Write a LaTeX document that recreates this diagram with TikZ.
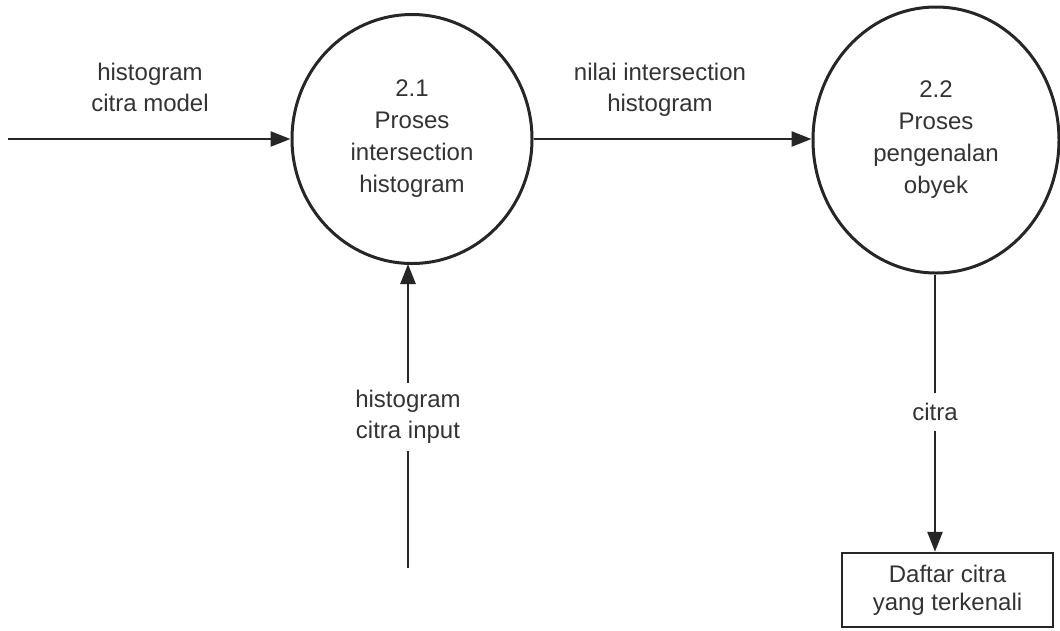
\documentclass[tikz,border=0pt]{standalone}
\usepackage{fontspec}
\setmainfont{Liberation Sans}
\usetikzlibrary{arrows.meta}
\definecolor{ink}{HTML}{262626}
\definecolor{txt}{HTML}{333333}
\tikzset{
  proc/.style={ellipse, draw=ink, line width=3pt, inner sep=0pt, text=txt,
    align=center, font=\fontsize{24}{32}\selectfont},
  flow/.style={draw=ink, line width=2.6pt,
    -{Triangle[length=20pt,width=15pt]}},
  plain/.style={draw=ink, line width=2.6pt},
  lbl/.style={text=txt, align=center, inner sep=2pt,
    font=\fontsize{24}{31}\selectfont},
  store/.style={draw=ink, line width=2.5pt, text=txt, align=center,
    inner sep=0pt, font=\fontsize{24}{28}\selectfont}
}
\usetikzlibrary{shapes.geometric}
\begin{document}
\begin{tikzpicture}[x=1pt,y=-1pt]
  \useasboundingbox (0,0) rectangle (1060,630);
  % processes
  \node[proc, minimum width=240pt, minimum height=249pt] (p1) at (412,139)
    {2.1\\Proses\\intersection\\histogram};
  \node[proc, minimum width=246pt, minimum height=266pt] (p2) at (936,140)
    {2.2\\Proses\\pengenalan\\obyek};
  % external store
  \node[store, minimum width=211pt, minimum height=74pt] (st) at (947.5,590)
    {Daftar citra\\yang terkenali};
  % free ends
  \coordinate (src) at (8,139);
  \coordinate (inp) at (408,568);
  % flow labels
  \node[lbl] (lmodel) at (150,87) {histogram\\citra model};
  \node[lbl] (lnilai) at (660,90) {nilai intersection\\histogram};
  \node[lbl, minimum height=68pt] (linput) at (408,417) {histogram\\citra input};
  \node[lbl, minimum height=38pt] (lcitra) at (935,412) {citra};
  % flows
  \draw[flow] (src) -- (p1.west);
  \draw[flow] (p1.east) -- (p2.west |- p1.east);
  \draw[plain] (inp) -- (linput.south);
  \draw[flow] (linput.north) -- (408,264);
  \draw[plain] (p2.south -| lcitra.north) -- (lcitra.north);
  \draw[flow] (lcitra.south) -- (lcitra.south |- st.north);
\end{tikzpicture}
\end{document}
